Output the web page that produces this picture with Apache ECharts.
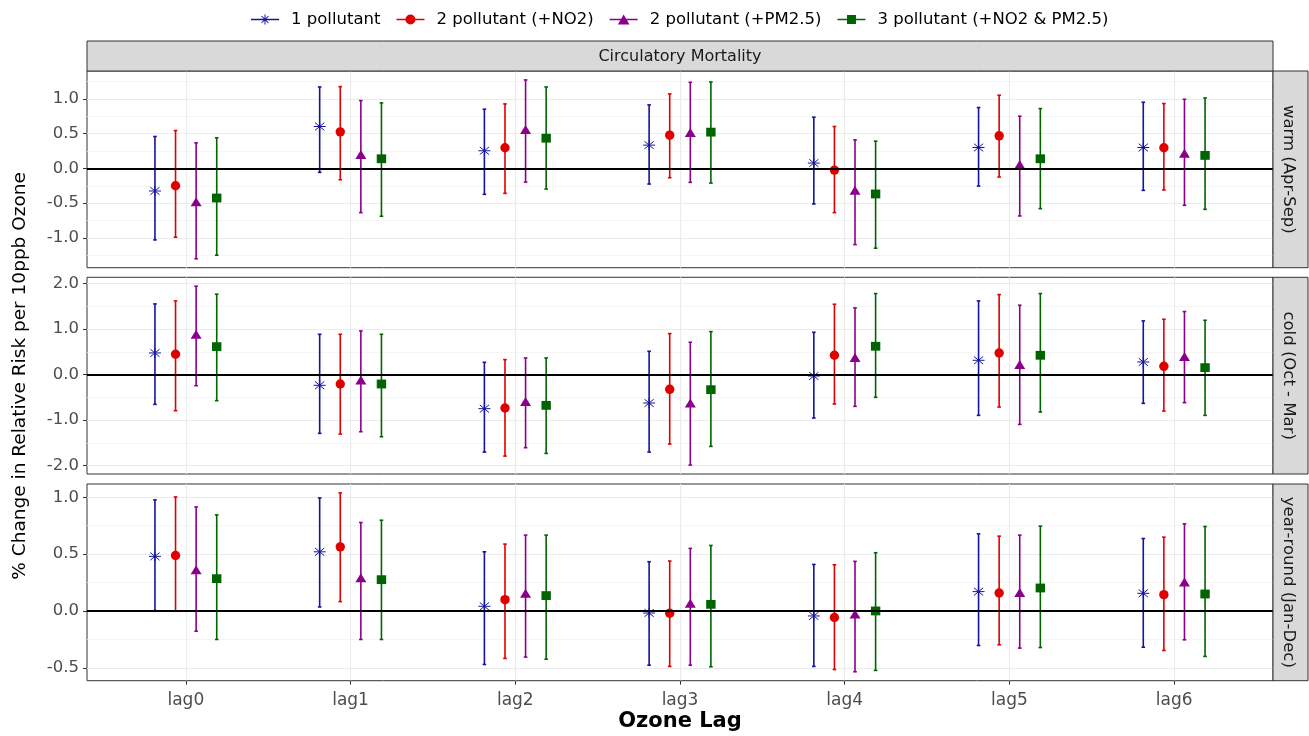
<!DOCTYPE html>
<html><head><meta charset="utf-8">
<script src="https://cdn.jsdelivr.net/npm/echarts@6/dist/echarts.min.js"></script>
<style>html,body{margin:0;padding:0;background:#fff}#c{width:1309px;height:736px}</style>
</head><body><div id="c"></div>
<script>
// ---------- data ----------
const lags = ['lag0', 'lag1', 'lag2', 'lag3', 'lag4', 'lag5', 'lag6'];
const seriesNames = ['1 pollutant', '2 pollutant (+NO2)', '2 pollutant (+PM2.5)', '3 pollutant (+NO2 & PM2.5)'];
const periods = ['warm (Apr-Sep)', 'cold (Oct - Mar)', 'year-round (Jan-Dec)'];
const facetTitle = 'Circulatory Mortality';
const xTitle = 'Ozone Lag';
const yTitle = '% Change in Relative Risk per 10ppb Ozone';

// each row: [estimate, lower CI, upper CI] for lag0..lag6
const warm_1p  = [[-0.325,-1.029,0.459],[0.603,-0.057,1.172],[0.254,-0.373,0.852],[0.335,-0.225,0.914],[0.077,-0.512,0.737],[0.301,-0.254,0.876],[0.301,-0.316,0.952]];
const warm_no2 = [[-0.249,-0.990,0.545],[0.526,-0.163,1.177],[0.297,-0.359,0.928],[0.478,-0.134,1.072],[-0.024,-0.636,0.603],[0.469,-0.124,1.053],[0.297,-0.311,0.933]];
const warm_pm  = [[-0.500,-1.300,0.368],[0.180,-0.636,0.976],[0.540,-0.196,1.273],[0.495,-0.201,1.239],[-0.336,-1.096,0.411],[0.035,-0.684,0.751],[0.198,-0.531,0.995]];
const warm_3p  = [[-0.426,-1.249,0.440],[0.139,-0.689,0.943],[0.435,-0.297,1.172],[0.522,-0.211,1.244],[-0.368,-1.148,0.392],[0.139,-0.579,0.861],[0.187,-0.589,1.014]];

const cold_1p  = [[0.476,-0.652,1.553],[-0.234,-1.289,0.886],[-0.747,-1.700,0.271],[-0.623,-1.700,0.513],[-0.029,-0.952,0.930],[0.315,-0.894,1.619],[0.278,-0.630,1.180]];
const cold_no2 = [[0.447,-0.791,1.619],[-0.205,-1.304,0.886],[-0.733,-1.788,0.330],[-0.322,-1.524,0.901],[0.425,-0.645,1.546],[0.476,-0.711,1.758],[0.183,-0.799,1.216]];
const cold_pm  = [[0.855,-0.242,1.941],[-0.150,-1.253,0.960],[-0.620,-1.604,0.366],[-0.655,-1.985,0.711],[0.345,-0.696,1.465],[0.190,-1.092,1.524],[0.365,-0.615,1.385]];
const cold_3p  = [[0.615,-0.571,1.766],[-0.205,-1.363,0.886],[-0.674,-1.729,0.366],[-0.330,-1.575,0.945],[0.623,-0.498,1.780],[0.425,-0.821,1.780],[0.154,-0.894,1.194]];

const year_1p  = [[0.480,0.003,0.977],[0.520,0.035,0.994],[0.041,-0.471,0.520],[-0.018,-0.477,0.433],[-0.044,-0.488,0.409],[0.170,-0.304,0.678],[0.155,-0.319,0.637]];
const year_no2 = [[0.488,0.002,1.003],[0.564,0.082,1.038],[0.099,-0.418,0.588],[-0.020,-0.488,0.439],[-0.058,-0.515,0.406],[0.158,-0.298,0.658],[0.143,-0.348,0.649]];
const year_pm  = [[0.350,-0.178,0.915],[0.278,-0.251,0.778],[0.142,-0.406,0.667],[0.054,-0.477,0.550],[-0.040,-0.535,0.436],[0.150,-0.327,0.667],[0.242,-0.254,0.766]];
const year_3p  = [[0.284,-0.251,0.845],[0.275,-0.251,0.798],[0.135,-0.424,0.667],[0.058,-0.491,0.576],[0.000,-0.523,0.512],[0.202,-0.322,0.746],[0.149,-0.400,0.743]];

// axis tick values
const yTicks_warm = [-1.0, -0.5, 0.0, 0.5, 1.0];
const yTicks_cold = [-2.0, -1.0, 0.0, 1.0, 2.0];
const yTicks_year = [-0.5, 0.0, 0.5, 1.0];
const yMinor_warm = [-1.25, -0.75, -0.25, 0.25, 0.75, 1.25];
const yMinor_cold = [-1.5, -0.5, 0.5, 1.5];
const yMinor_year = [-0.25, 0.25, 0.75];

// ---------- styling / layout ----------
const colors = ['#14149C', '#E00000', '#8B008B', '#006400'];
const shapes = ['star', 'circle', 'triangle', 'square'];
const FONT = 'DejaVu Sans';
const PANEL_L = 87, PANEL_R = 1273, PANEL_H = 196.7;
const panelTops = [71, 277.3, 484];
const dodgeWidth = 0.5;

const panels = [
  {label: periods[0], sets: [warm_1p, warm_no2, warm_pm, warm_3p], major: yTicks_warm, minor: yMinor_warm},
  {label: periods[1], sets: [cold_1p, cold_no2, cold_pm, cold_3p], major: yTicks_cold, minor: yMinor_cold},
  {label: periods[2], sets: [year_1p, year_no2, year_pm, year_3p], major: yTicks_year, minor: yMinor_year}
];

function yRange(sets) {
  let lo = Infinity, hi = -Infinity;
  sets.forEach(s => s.forEach(r => { lo = Math.min(lo, r[0], r[1], r[2]); hi = Math.max(hi, r[0], r[1], r[2]); }));
  const pad = (hi - lo) * 0.05;
  return [lo - pad, hi + pad];
}

function marker(shape, cx, cy, color) {
  if (shape === 'circle') return {type: 'circle', shape: {cx: cx, cy: cy, r: 4.7}, style: {fill: color}};
  if (shape === 'square') return {type: 'rect', shape: {x: cx - 4.7, y: cy - 4.4, width: 9.4, height: 8.8}, style: {fill: color}};
  if (shape === 'triangle') return {type: 'polygon', shape: {points: [[cx, cy - 6], [cx + 5.5, cy + 3], [cx - 5.5, cy + 3]]}, style: {fill: color}};
  // asterisk (+ and x superimposed)
  const st = {stroke: color, lineWidth: 1};
  return {type: 'group', children: [
    {type: 'line', shape: {x1: cx - 6, y1: cy, x2: cx + 6, y2: cy}, style: st},
    {type: 'line', shape: {x1: cx, y1: cy - 5, x2: cx, y2: cy + 5}, style: st},
    {type: 'line', shape: {x1: cx - 4.6, y1: cy - 3.8, x2: cx + 4.6, y2: cy + 3.8}, style: st},
    {type: 'line', shape: {x1: cx - 4.6, y1: cy + 3.8, x2: cx + 4.6, y2: cy - 3.8}, style: st}
  ]};
}

function makeRender(shape, color) {
  return function (params, api) {
    const x = api.value(0);
    const pE = api.coord([x, api.value(1)]);
    const pL = api.coord([x, api.value(2)]);
    const pH = api.coord([x, api.value(3)]);
    const cx = pE[0];
    const ls = {stroke: color, lineWidth: 1.6};
    return {type: 'group', children: [
      {type: 'line', shape: {x1: cx, y1: pL[1], x2: cx, y2: pH[1]}, style: ls},
      {type: 'line', shape: {x1: cx - 1.8, y1: pL[1], x2: cx + 1.8, y2: pL[1]}, style: ls},
      {type: 'line', shape: {x1: cx - 1.8, y1: pH[1], x2: cx + 1.8, y2: pH[1]}, style: ls},
      marker(shape, cx, pE[1], color)
    ]};
  };
}

const legendIcons = [
  'path://M0,4.25H28V5.75H0Z M13.5,0H14.5V10H13.5Z M10.854,1.146L17.854,8.146L17.146,8.854L10.146,1.854Z M17.854,1.854L10.854,8.854L10.146,8.146L17.146,1.146Z',
  'path://M0,4.2H9.2V5.8H0Z M18.8,4.2H28V5.8H18.8Z M9,5A5,5 0 1,1 19,5A5,5 0 1,1 9,5Z',
  'path://M0,4.2H11.5V5.8H0Z M16.5,4.2H28V5.8H16.5Z M14,0L19.8,10H8.2Z',
  'path://M0,4.2H9.5V5.8H0Z M18.5,4.2H28V5.8H18.5Z M9.5,0.5H18.5V9.5H9.5Z'
];

const grids = [], xAxes = [], yAxes = [], series = [], graphics = [];
const lagIdx = lags.map((_, i) => i);

panels.forEach((p, i) => {
  const rng = yRange(p.sets);
  const isBottom = i === panels.length - 1;
  grids.push({left: PANEL_L, width: PANEL_R - PANEL_L, top: panelTops[i], height: PANEL_H,
    show: true, borderColor: '#333333', borderWidth: 1, backgroundColor: 'transparent', containLabel: false});
  xAxes.push({type: 'value', gridIndex: i, min: -0.6, max: 6.6, position: 'bottom',
    axisLine: {show: false, onZero: false},
    axisTick: {show: isBottom, customValues: lagIdx, length: 4, lineStyle: {color: '#333333', width: 1}},
    axisLabel: {show: isBottom, customValues: lagIdx, formatter: v => lags[Math.round(v)],
      color: '#4D4D4D', fontFamily: FONT, fontSize: 17, margin: 11},
    splitLine: {show: true, lineStyle: {color: '#EBEBEB', width: 1.1}}
  });
  yAxes.push({type: 'value', gridIndex: i, min: rng[0], max: rng[1], position: 'left',
    axisLine: {show: false, onZero: false},
    axisTick: {show: true, customValues: p.major, length: 4, lineStyle: {color: '#333333', width: 1}},
    axisLabel: {show: true, customValues: p.major, formatter: v => v.toFixed(1),
      color: '#4D4D4D', fontFamily: FONT, fontSize: 16.5, margin: 8},
    splitLine: {show: true, lineStyle: {color: '#EBEBEB', width: 1.1}}
  });
  yAxes.push({type: 'value', gridIndex: i, min: rng[0], max: rng[1], position: 'left',
    axisLine: {show: false, onZero: false},
    axisTick: {show: false, customValues: p.minor},
    axisLabel: {show: false, customValues: p.minor},
    splitLine: {show: true, lineStyle: {color: '#F3F3F3', width: 0.8}}
  });
  // zero reference line
  series.push({type: 'line', xAxisIndex: i, yAxisIndex: 2 * i, data: [], silent: true, z: 3,
    markLine: {silent: true, symbol: ['none', 'none'], label: {show: false},
      lineStyle: {color: '#000000', width: 1.8, type: 'solid'}, data: [{yAxis: 0}], animation: false}
  });
  p.sets.forEach((set, k) => {
    const off = (k - (p.sets.length - 1) / 2) * dodgeWidth / p.sets.length;
    series.push({
      type: 'custom', name: seriesNames[k], xAxisIndex: i, yAxisIndex: 2 * i, z: 4,
      color: colors[k], itemStyle: {color: colors[k]},
      encode: {x: 0, y: [1, 2, 3]},
      data: set.map((r, j) => [j + off, r[0], r[1], r[2]]),
      renderItem: makeRender(shapes[k], colors[k]),
      clip: false
    });
  });
  // right strip
  graphics.push({type: 'rect', z: 10, shape: {x: PANEL_R, y: panelTops[i], width: 35, height: PANEL_H},
    style: {fill: '#D9D9D9', stroke: '#333333', lineWidth: 1}});
  graphics.push({type: 'text', z: 11, x: 1288, y: panelTops[i] + PANEL_H / 2, rotation: -Math.PI / 2,
    style: {text: p.label, font: '16.5px "DejaVu Sans"', fill: '#1A1A1A', align: 'center', verticalAlign: 'middle'}});
});

// top strip
graphics.push({type: 'rect', z: 10, shape: {x: PANEL_L, y: 41, width: PANEL_R - PANEL_L, height: 30},
  style: {fill: '#D9D9D9', stroke: '#333333', lineWidth: 1}});
graphics.push({type: 'text', z: 11, x: (PANEL_L + PANEL_R) / 2, y: 56.5,
  style: {text: facetTitle, font: '16px "DejaVu Sans"', fill: '#1A1A1A', align: 'center', verticalAlign: 'middle'}});
// axis titles
graphics.push({type: 'text', z: 11, x: (PANEL_L + PANEL_R) / 2, y: 722,
  style: {text: xTitle, font: 'bold 21px "DejaVu Sans"', fill: '#000000', align: 'center', verticalAlign: 'middle'}});
graphics.push({type: 'text', z: 11, x: 20, y: (panelTops[0] + panelTops[2] + PANEL_H) / 2, rotation: Math.PI / 2,
  style: {text: yTitle, font: '18.5px "DejaVu Sans"', fill: '#000000', align: 'center', verticalAlign: 'middle'}});

const option = {
  animation: false,
  color: colors,
  legend: {
    top: 6, left: 246, itemWidth: 28, itemHeight: 10, itemGap: 16,
    textStyle: {fontFamily: FONT, fontSize: 16.5, color: '#000000', padding: [0, 0, 0, 7]},
    data: seriesNames.map((n, k) => ({name: n, icon: legendIcons[k]}))
  },
  grid: grids, xAxis: xAxes, yAxis: yAxes, series: series, graphic: graphics
};

echarts.init(document.getElementById('c'), null, {renderer: 'canvas'}).setOption(option);
</script></body></html>
